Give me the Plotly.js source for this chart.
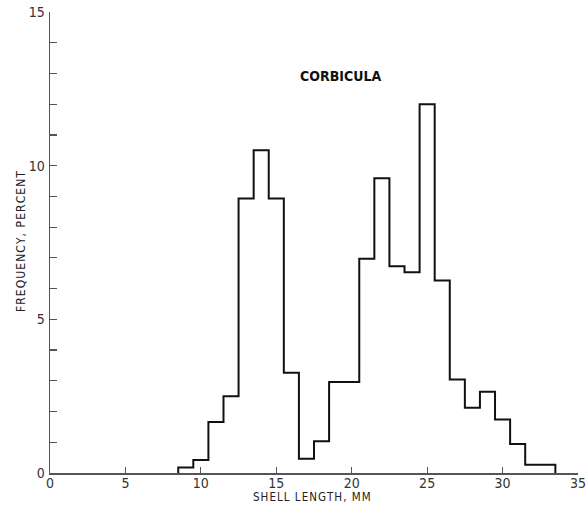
<!DOCTYPE html>
<html>
<head>
<meta charset="utf-8">
<script src="https://cdn.plot.ly/plotly-3.0.1.min.js"></script>
<style>html,body{margin:0;padding:0;background:#fff}#chart{width:588px;height:513px}</style>
</head>
<body>
<div id="chart"></div>
<script>
// Bin edges (shell length, mm) and frequency (percent) per 1-mm bin
const binEdges = [8.5, 9.5, 10.5, 11.5, 12.5, 13.5, 14.5, 15.5, 16.5, 17.5, 18.5, 19.5, 20.5,
                  21.5, 22.5, 23.5, 24.5, 25.5, 26.5, 27.5, 28.5, 29.5, 30.5, 31.5, 32.5, 33.5];
const frequency = [0.18, 0.42, 1.66, 2.5, 8.93, 10.5, 8.93, 3.26, 0.46, 1.03, 2.96, 2.96, 6.97,
                   9.59, 6.73, 6.53, 12.0, 6.26, 3.04, 2.12, 2.64, 1.74, 0.94, 0.27, 0.27];
const xTickVals = [0, 5, 10, 15, 20, 25, 30, 35];
const yTickVals = [0, 5, 10, 15];
const chartTitle = "CORBICULA";
const xTitle = "SHELL LENGTH, MM";
const yTitle = "FREQUENCY, PERCENT";

const xs = [binEdges[0]].concat(binEdges);
const ys = [0].concat(frequency, [0]);

const font = "DejaVu Sans Condensed, Liberation Sans Narrow, sans-serif";
const trace = {
  x: xs, y: ys, type: 'scatter', mode: 'lines',
  line: {shape: 'hv', color: '#111', width: 2},
  hoverinfo: 'skip'
};
const layout = {
  width: 588, height: 513,
  margin: {l: 50, r: 10, t: 12, b: 40},
  paper_bgcolor: '#fff', plot_bgcolor: '#fff',
  showlegend: false,
  font: {family: font, color: '#333', size: 14},
  xaxis: {
    range: [0, 35], tickvals: xTickVals, ticktext: xTickVals.map(String),
    ticks: 'inside', ticklen: 6, tickwidth: 1.2, tickcolor: '#555',
    showline: true, linecolor: '#555', linewidth: 1.5,
    showgrid: false, zeroline: false, ticklabelstandoff: -3,
    tickfont: {family: font, size: 14, color: '#333'}
  },
  yaxis: {
    range: [0, 15], tickvals: yTickVals, ticktext: yTickVals.map(String),
    ticks: 'inside', ticklen: 7, tickwidth: 1.2, tickcolor: '#555',
    minor: {dtick: 1, ticks: 'inside', ticklen: 7, tickwidth: 1.2, tickcolor: '#555'},
    showline: true, linecolor: '#555', linewidth: 1.5,
    showgrid: false, zeroline: false, ticklabelstandoff: 1,
    tickfont: {family: font, size: 14, color: '#333'}
  },
  annotations: [
    {text: chartTitle, xref: 'paper', yref: 'paper', x: (340 - 50) / 528, y: (473 - 76) / 461,
     showarrow: false, xanchor: 'center', yanchor: 'middle',
     font: {family: font, size: 14, color: '#111', weight: 'bold'}},
    {text: xTitle.split('').join('\u200A'), xref: 'paper', yref: 'paper', x: (312 - 50) / 528, y: (473 - 497) / 461,
     showarrow: false, xanchor: 'center', yanchor: 'middle',
     font: {family: font, size: 11.5, color: '#222'}},
    {text: yTitle.split('').join('\u200A'), xref: 'paper', yref: 'paper', x: (21 - 50) / 528, y: (473 - 242) / 461,
     showarrow: false, xanchor: 'center', yanchor: 'middle', textangle: -90,
     font: {family: font, size: 12, color: '#222'}}
  ]
};
Plotly.newPlot('chart', [trace], layout, {staticPlot: true, displayModeBar: false});
</script>
</body>
</html>
